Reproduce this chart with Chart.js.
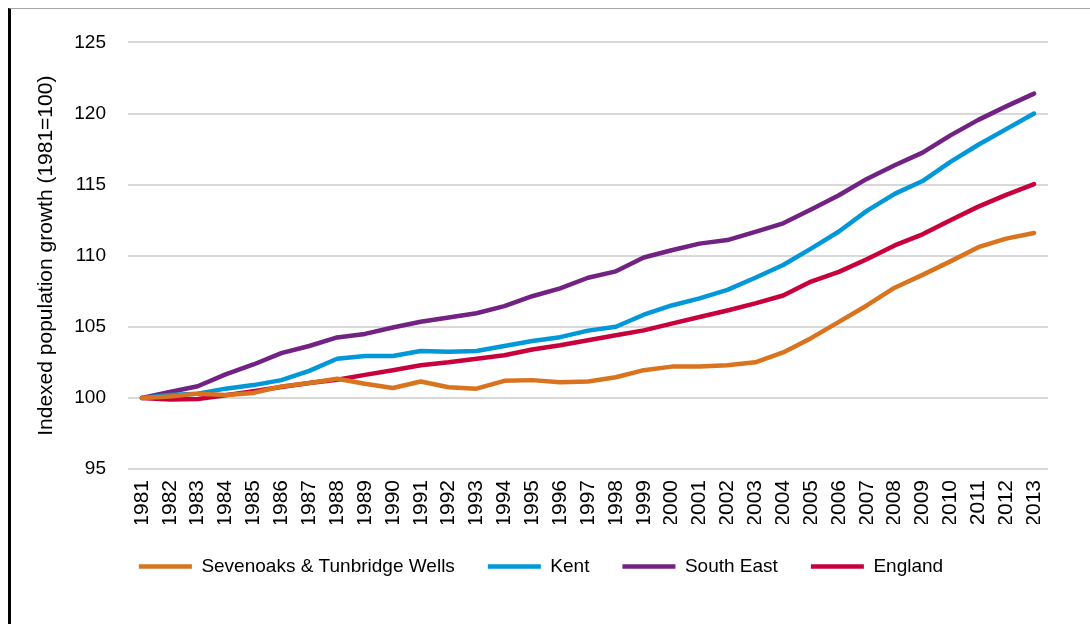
<!DOCTYPE html>
<html>
<head>
<meta charset="utf-8">
<script src="https://cdn.jsdelivr.net/npm/chart.js@4/dist/chart.umd.min.js"></script>
<style>
  html, body { margin: 0; padding: 0; background: #fff; }
  #frame {
    position: absolute; left: 8px; top: 8px;
    width: 1082px; height: 616px;
    border-top: 1px solid #a6a6a6;
    border-left: 3px solid #000;
  }
  #chartWrap { position: absolute; left: 0; top: 0; width: 1079px; height: 615px; }
</style>
</head>
<body>
<div id="frame">
  <div id="chartWrap"><canvas id="popChart"></canvas></div>
</div>
<script>
const years = [
  "1981", "1982", "1983", "1984", "1985", "1986", "1987", "1988", "1989", "1990",
  "1991", "1992", "1993", "1994", "1995", "1996", "1997", "1998", "1999", "2000",
  "2001", "2002", "2003", "2004", "2005", "2006", "2007", "2008", "2009", "2010",
  "2011", "2012", "2013"
];

const sevenoaks = [
  100, 100.1, 100.3, 100.2, 100.35, 100.8, 101.05, 101.35, 101.0, 100.7,
  101.15, 100.75, 100.65, 101.2, 101.25, 101.1, 101.15, 101.45, 101.95, 102.2,
  102.2, 102.3, 102.5, 103.2, 104.2, 105.35, 106.5, 107.75, 108.65, 109.6,
  110.6, 111.2, 111.6
];
const kent = [
  100, 100.2, 100.3, 100.65, 100.9, 101.25, 101.9, 102.75, 102.95, 102.95,
  103.3, 103.25, 103.3, 103.65, 104.0, 104.27, 104.73, 105.0, 105.85, 106.5,
  107.0, 107.6, 108.45, 109.35, 110.5, 111.7, 113.15, 114.35, 115.25, 116.6,
  117.8, 118.9, 120.0
];
const southEast = [
  100, 100.42, 100.82, 101.65, 102.35, 103.15, 103.65, 104.25, 104.5, 104.95,
  105.35, 105.65, 105.95, 106.45, 107.15, 107.7, 108.45, 108.9, 109.87, 110.38,
  110.85, 111.1, 111.68, 112.28, 113.25, 114.25, 115.4, 116.36, 117.25, 118.46,
  119.55, 120.5, 121.4
];
const england = [
  100, 99.88, 99.93, 100.19, 100.47, 100.77, 101.05, 101.28, 101.62, 101.95,
  102.3, 102.5, 102.75, 103.0, 103.4, 103.7, 104.05, 104.4, 104.75, 105.22,
  105.69, 106.15, 106.65, 107.2, 108.18, 108.86, 109.75, 110.72, 111.5, 112.5,
  113.45, 114.28, 115.03
];

const seriesNames = ["Sevenoaks & Tunbridge Wells", "Kent", "South East", "England"];
const seriesColors = ["#d9731e", "#0098d8", "#722282", "#c8003c"];
const yTicks = [95, 100, 105, 110, 115, 120, 125];

const font = "'Liberation Sans', Arial, sans-serif";

const ctx = document.getElementById("popChart").getContext("2d");

new Chart(ctx, {
  type: "line",
  data: {
    labels: years,
    datasets: [sevenoaks, kent, southEast, england].map((values, i) => ({
      label: seriesNames[i],
      data: values,
      borderColor: seriesColors[i],
      backgroundColor: seriesColors[i],
      borderWidth: 4.5,
      borderCapStyle: "round",
      borderJoinStyle: "round",
      pointRadius: 0,
      tension: 0
    }))
  },
  options: {
    responsive: true,
    maintainAspectRatio: false,
    animation: false,
    layout: { padding: { left: 23, right: 42, top: 31, bottom: 38 } },
    plugins: {
      tooltip: { enabled: false },
      legend: {
        position: "bottom",
        align: "center",
        labels: {
          usePointStyle: true,
          pointStyle: "line",
          pointStyleWidth: 53,
          padding: 33,
          color: "#000",
          font: { family: font, size: 19 }
        }
      }
    },
    scales: {
      x: {
        offset: true,
        grid: { display: false, drawTicks: false },
        border: { display: false },
        ticks: {
          autoSkip: false,
          minRotation: 90,
          maxRotation: 90,
          padding: 11,
          color: "#000",
          font: { family: font, size: 21 }
        },
        afterFit: (scale) => { scale.height = 55; }
      },
      y: {
        min: 95,
        max: 125,
        afterBuildTicks: (scale) => { scale.ticks = yTicks.map(v => ({ value: v })); },
        grid: { color: "#d9d9d9", lineWidth: 2, drawTicks: false },
        border: { display: false },
        ticks: {
          padding: 22,
          color: "#000",
          font: { family: font, size: 19 }
        },
        title: {
          display: true,
          text: "Indexed population growth (1981=100)",
          color: "#000",
          font: { family: font, size: 21 },
          padding: { top: 0, bottom: 0 }
        },
        afterFit: (scale) => { scale.width = 94; }
      }
    }
  }
});
</script>
</body>
</html>
